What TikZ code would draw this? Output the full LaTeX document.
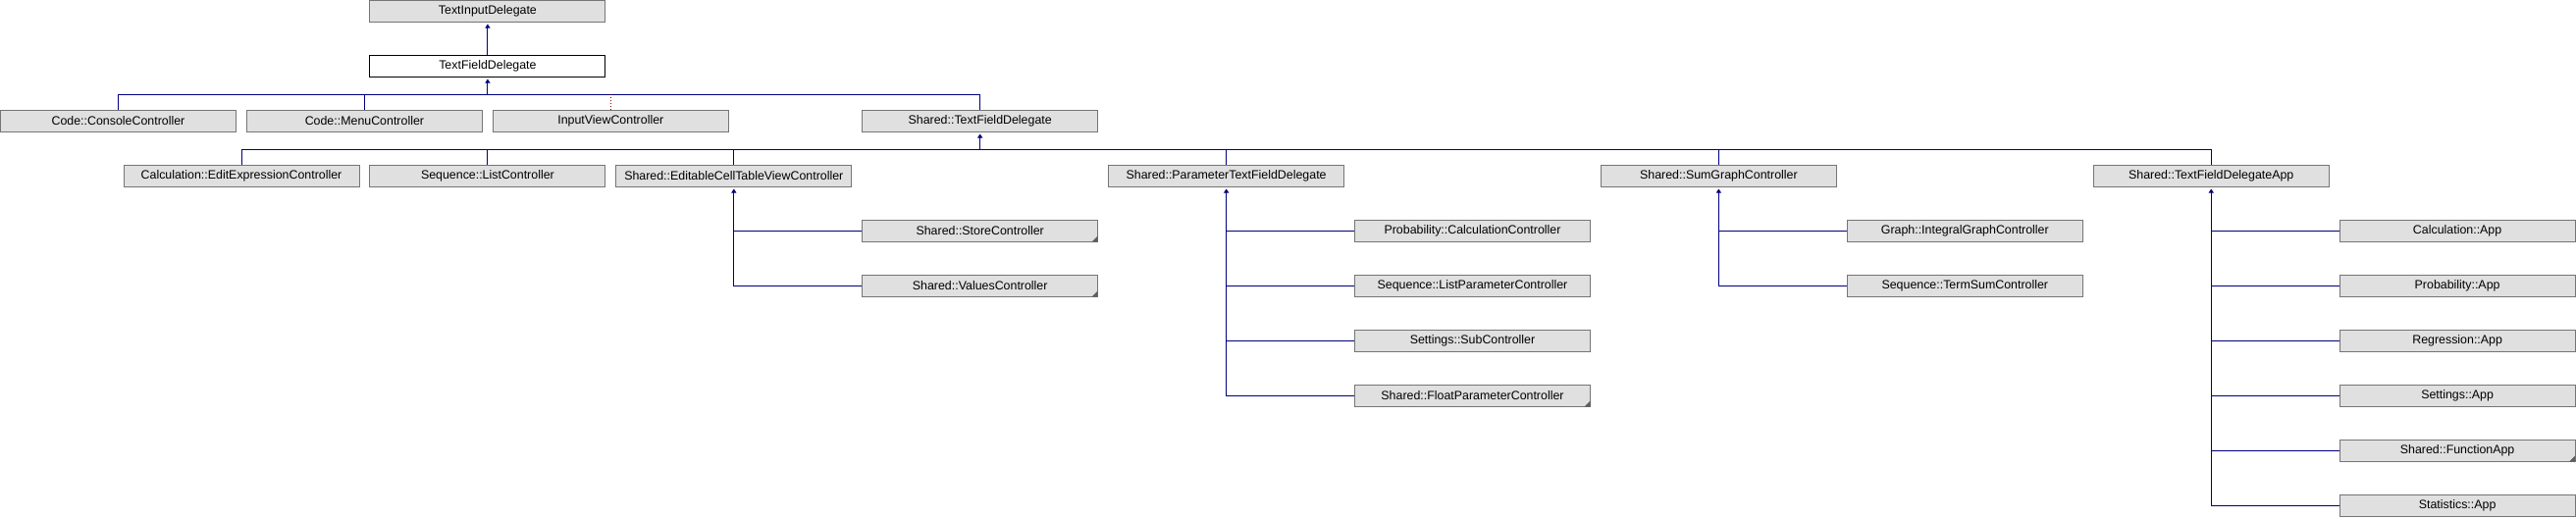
\documentclass[tikz,border=0pt]{standalone}
\usepackage{fontspec}
\setmainfont{Liberation Sans}
\usetikzlibrary{arrows.meta}
\definecolor{boxgray}{HTML}{E0E0E0}
\definecolor{edgegray}{HTML}{757575}
\definecolor{linkblue}{HTML}{000080}
\definecolor{privred}{HTML}{8B0000}

\begin{document}
\begin{tikzpicture}[x=1pt,y=1pt,
classbox/.style={draw=edgegray,fill=boxgray,rectangle,line width=1pt,inner sep=0pt,minimum width=240pt,minimum height=22pt,font=\fontsize{12.4}{14}\selectfont},
focusbox/.style={classbox,draw=black,fill=white},
publine/.style={draw=linkblue,line width=1pt},
pubarrow/.style={publine,-{Triangle[width=5pt,length=4pt]},shorten >=1.5pt},
privline/.style={draw=privred,line width=1pt,dotted},
moremark/.style={fill=edgegray!80!black}]

\useasboundingbox (0,0) rectangle (2625,-528);

% base classes
\draw (496.9,-11.5) node[classbox] (tid) {TextInputDelegate};
\draw (496.9,-67.5) node[focusbox] (tfd) {TextFieldDelegate};
\draw[pubarrow] (tfd.north) -- (tid.south);

% direct subclasses
\draw (120.5,-123.5) node[classbox] (ccons) {Code::ConsoleController};
\draw (371.4,-123.5) node[classbox] (cmenu) {Code::MenuController};
\draw (622.3,-123.5) node[classbox] (ivc) {InputViewController};
\draw (998.7,-123.5) node[classbox] (stfd) {Shared::TextFieldDelegate};

\coordinate (busa) at (0,-96);
\draw[publine] (ccons.north) |- (stfd.north |- busa) -- (stfd.north);
\draw[publine] (cmenu.north) -- (cmenu.north |- busa);
\draw[privline] (ivc.north) -- (ivc.north |- busa);
\draw[pubarrow] (tfd.south |- busa) -- (tfd.south);

% subclasses of Shared::TextFieldDelegate
\draw (246.0,-179.5) node[classbox] (cedit) {Calculation::EditExpressionController};
\draw (496.9,-179.5) node[classbox] (sqlist) {Sequence::ListController};
\draw (747.8,-179.5) node[classbox] (ecell) {Shared::EditableCellTableViewController};
\draw (1249.6,-179.5) node[classbox] (ptfd) {Shared::ParameterTextFieldDelegate};
\draw (1751.4,-179.5) node[classbox] (sumg) {Shared::SumGraphController};
\draw (2253.2,-179.5) node[classbox] (tfdapp) {Shared::TextFieldDelegateApp};

\coordinate (busb) at (0,-152);
\draw[publine] (cedit.north) |- (tfdapp.north |- busb) -- (tfdapp.north);
\draw[publine] (sqlist.north) -- (sqlist.north |- busb);
\draw[publine] (ecell.north) -- (ecell.north |- busb);
\draw[publine] (ptfd.north) -- (ptfd.north |- busb);
\draw[publine] (sumg.north) -- (sumg.north |- busb);
\draw[pubarrow] (stfd.south |- busb) -- (stfd.south);

% Shared::EditableCellTableViewController
\draw (998.7,-235.5) node[classbox] (store) {Shared::StoreController};
\draw (998.7,-291.5) node[classbox] (values) {Shared::ValuesController};
\draw[publine] (store.west) -- (store.west -| ecell.south);
\draw[pubarrow] (values.west) -| (ecell.south);
\fill[moremark] ([shift={(-0.5,0.5)}]store.south east) -- ++(-6,0) -- ++(6,6) -- cycle;
\fill[moremark] ([shift={(-0.5,0.5)}]values.south east) -- ++(-6,0) -- ++(6,6) -- cycle;

% Shared::ParameterTextFieldDelegate
\draw (1500.5,-235.5) node[classbox] (pcalc) {Probability::CalculationController};
\draw (1500.5,-291.5) node[classbox] (sqparam) {Sequence::ListParameterController};
\draw (1500.5,-347.5) node[classbox] (ssub) {Settings::SubController};
\draw (1500.5,-403.5) node[classbox] (fparam) {Shared::FloatParameterController};
\draw[publine] (pcalc.west) -- (pcalc.west -| ptfd.south);
\draw[publine] (sqparam.west) -- (sqparam.west -| ptfd.south);
\draw[publine] (ssub.west) -- (ssub.west -| ptfd.south);
\draw[pubarrow] (fparam.west) -| (ptfd.south);
\fill[moremark] ([shift={(-0.5,0.5)}]fparam.south east) -- ++(-6,0) -- ++(6,6) -- cycle;

% Shared::SumGraphController
\draw (2002.3,-235.5) node[classbox] (igraph) {Graph::IntegralGraphController};
\draw (2002.3,-291.5) node[classbox] (tsum) {Sequence::TermSumController};
\draw[publine] (igraph.west) -- (igraph.west -| sumg.south);
\draw[pubarrow] (tsum.west) -| (sumg.south);

% Shared::TextFieldDelegateApp
\draw (2504.1,-235.5) node[classbox] (capp) {Calculation::App};
\draw (2504.1,-291.5) node[classbox] (papp) {Probability::App};
\draw (2504.1,-347.5) node[classbox] (rapp) {Regression::App};
\draw (2504.1,-403.5) node[classbox] (sapp) {Settings::App};
\draw (2504.1,-459.5) node[classbox] (fapp) {Shared::FunctionApp};
\draw (2504.1,-515.5) node[classbox] (stapp) {Statistics::App};
\draw[publine] (capp.west) -- (capp.west -| tfdapp.south);
\draw[publine] (papp.west) -- (papp.west -| tfdapp.south);
\draw[publine] (rapp.west) -- (rapp.west -| tfdapp.south);
\draw[publine] (sapp.west) -- (sapp.west -| tfdapp.south);
\draw[publine] (fapp.west) -- (fapp.west -| tfdapp.south);
\draw[pubarrow] (stapp.west) -| (tfdapp.south);
\fill[moremark] ([shift={(-0.5,0.5)}]fapp.south east) -- ++(-6,0) -- ++(6,6) -- cycle;
\end{tikzpicture}
\end{document}
